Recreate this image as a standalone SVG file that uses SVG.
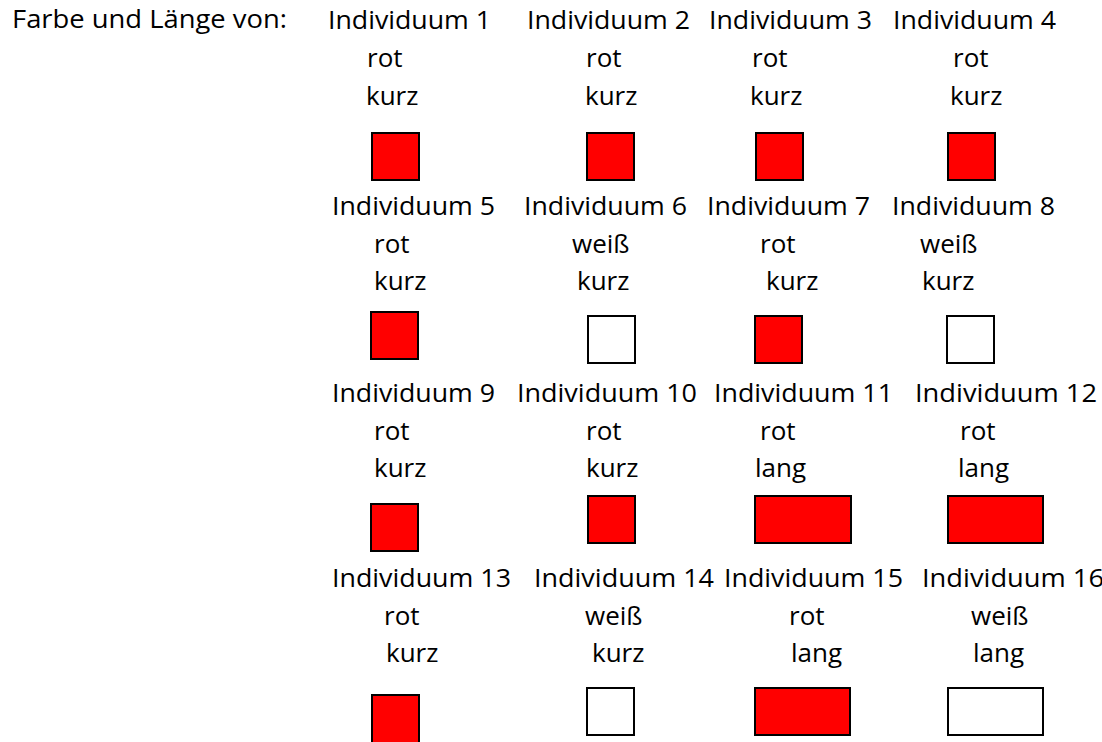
<svg xmlns="http://www.w3.org/2000/svg" width="1102" height="742" viewBox="0 0 1102 742">
<style>
text{font-family:"Open Sans","Liberation Sans",sans-serif;font-size:26px;fill:#000}
.r{fill:#ff0000;stroke:#000;stroke-width:2}
.w{fill:#ffffff;stroke:#000;stroke-width:2}
</style>
<rect x="0" y="0" width="1102" height="742" fill="#ffffff"/>
<g id="title"><text x="12" y="28" textLength="275" lengthAdjust="spacingAndGlyphs">Farbe und Länge von:</text></g>
<g id="connectors"></g>
<g id="ind1"><text x="328" y="29" textLength="163" lengthAdjust="spacingAndGlyphs">Individuum 1</text><text x="367" y="67">rot</text><text x="366" y="105">kurz</text><rect class="r" x="372" y="133" width="47" height="47"/></g>
<g id="ind2"><text x="527" y="29" textLength="163" lengthAdjust="spacingAndGlyphs">Individuum 2</text><text x="586" y="67">rot</text><text x="585" y="105">kurz</text><rect class="r" x="587" y="133" width="47" height="47"/></g>
<g id="ind3"><text x="709" y="29" textLength="163" lengthAdjust="spacingAndGlyphs">Individuum 3</text><text x="752" y="67">rot</text><text x="750" y="105">kurz</text><rect class="r" x="756" y="133" width="47" height="47"/></g>
<g id="ind4"><text x="893" y="29" textLength="163" lengthAdjust="spacingAndGlyphs">Individuum 4</text><text x="953" y="67">rot</text><text x="950" y="105">kurz</text><rect class="r" x="948" y="133" width="47" height="47"/></g>
<g id="ind5"><text x="332" y="215" textLength="163" lengthAdjust="spacingAndGlyphs">Individuum 5</text><text x="374" y="253">rot</text><text x="374" y="290">kurz</text><rect class="r" x="371" y="312" width="47" height="47"/></g>
<g id="ind6"><text x="524" y="215" textLength="163" lengthAdjust="spacingAndGlyphs">Individuum 6</text><text x="572" y="253">weiß</text><text x="577" y="290">kurz</text><rect class="w" x="588" y="316" width="47" height="47"/></g>
<g id="ind7"><text x="707" y="215" textLength="163" lengthAdjust="spacingAndGlyphs">Individuum 7</text><text x="760" y="253">rot</text><text x="766" y="290">kurz</text><rect class="r" x="755" y="316" width="47" height="47"/></g>
<g id="ind8"><text x="892" y="215" textLength="163" lengthAdjust="spacingAndGlyphs">Individuum 8</text><text x="920" y="253">weiß</text><text x="922" y="290">kurz</text><rect class="w" x="947" y="316" width="47" height="47"/></g>
<g id="ind9"><text x="332" y="402" textLength="163" lengthAdjust="spacingAndGlyphs">Individuum 9</text><text x="374" y="440">rot</text><text x="374" y="477">kurz</text><rect class="r" x="371" y="504" width="47" height="47"/></g>
<g id="ind10"><text x="517" y="402" textLength="180" lengthAdjust="spacingAndGlyphs">Individuum 10</text><text x="586" y="440">rot</text><text x="586" y="477">kurz</text><rect class="r" x="588" y="496" width="47" height="47"/></g>
<g id="ind11"><text x="714" y="402" textLength="179" lengthAdjust="spacingAndGlyphs">Individuum 11</text><text x="760" y="440">rot</text><text x="755" y="477">lang</text><rect class="r" x="755" y="496" width="96" height="47"/></g>
<g id="ind12"><text x="915" y="402" textLength="182" lengthAdjust="spacingAndGlyphs">Individuum 12</text><text x="960" y="440">rot</text><text x="958" y="477">lang</text><rect class="r" x="948" y="496" width="95" height="47"/></g>
<g id="ind13"><text x="332" y="587" textLength="179" lengthAdjust="spacingAndGlyphs">Individuum 13</text><text x="384" y="625">rot</text><text x="386" y="662">kurz</text><rect class="r" x="372" y="695" width="47" height="60"/></g>
<g id="ind14"><text x="534" y="587" textLength="180" lengthAdjust="spacingAndGlyphs">Individuum 14</text><text x="585" y="625">weiß</text><text x="592" y="662">kurz</text><rect class="w" x="587" y="688" width="47" height="47"/></g>
<g id="ind15"><text x="724" y="587" textLength="179" lengthAdjust="spacingAndGlyphs">Individuum 15</text><text x="789" y="625">rot</text><text x="791" y="662">lang</text><rect class="r" x="755" y="688" width="95" height="47"/></g>
<g id="ind16"><text x="922" y="587" textLength="182" lengthAdjust="spacingAndGlyphs">Individuum 16</text><text x="971" y="625">weiß</text><text x="973" y="662">lang</text><rect class="w" x="948" y="688" width="95" height="47"/></g>
</svg>
